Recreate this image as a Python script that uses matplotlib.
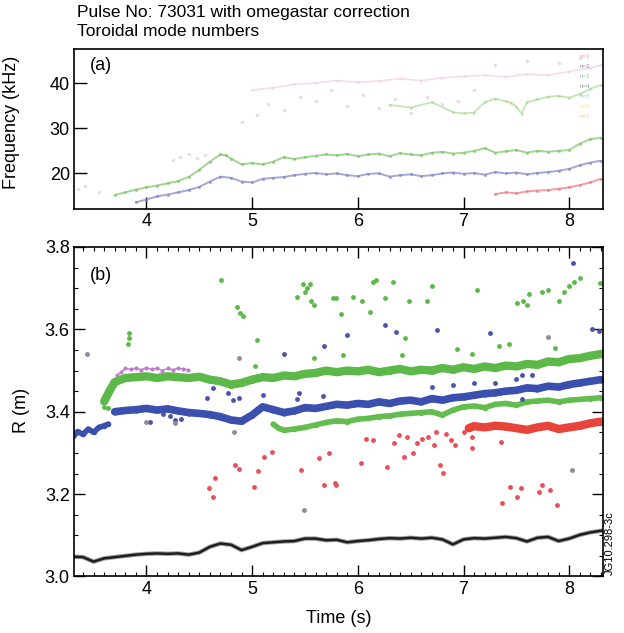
import matplotlib
matplotlib.use("Agg")
import matplotlib.pyplot as plt
from matplotlib.ticker import MultipleLocator, FormatStrFormatter

plt.rcParams["font.family"] = ["Liberation Sans", "DejaVu Sans"]

# ---------------- panel (a): frequency of the modes (kHz) ----------------
a_green_t = [3.7, 3.8, 3.9, 4.0, 4.1, 4.2, 4.3, 4.4, 4.5, 4.6, 4.7, 4.75, 4.8, 4.9,
             5.0, 5.1, 5.2, 5.3, 5.4, 5.5, 5.6, 5.7, 5.8, 5.9, 6.0, 6.1, 6.2, 6.3,
             6.4, 6.5, 6.6, 6.7, 6.8, 6.9, 7.0, 7.1, 7.2, 7.3, 7.4, 7.5, 7.6, 7.7,
             7.8, 7.9, 8.0, 8.1, 8.2, 8.3]
a_green_f = [15.2, 15.8, 16.4, 16.9, 17.3, 17.8, 18.3, 19.2, 20.8, 22.6, 24.2, 24.0, 23.3, 22.0,
             22.3, 22.0, 22.6, 23.6, 23.2, 23.6, 23.9, 24.2, 24.0, 24.3, 23.8, 24.2, 24.4, 23.8,
             24.5, 24.2, 24.0, 24.6, 24.8, 24.4, 24.6, 25.0, 25.6, 24.6, 24.9, 25.2, 24.6, 25.0,
             24.8, 25.0, 25.2, 26.6, 27.6, 27.9]

a_blue_t = [3.9, 4.0, 4.1, 4.2, 4.3, 4.4, 4.5, 4.6, 4.7, 4.8, 4.9, 5.0, 5.1, 5.2,
            5.3, 5.4, 5.5, 5.6, 5.7, 5.8, 5.9, 6.0, 6.1, 6.2, 6.3, 6.4, 6.5, 6.6,
            6.7, 6.8, 6.9, 7.0, 7.1, 7.2, 7.3, 7.4, 7.5, 7.6, 7.7, 7.8, 7.9, 8.0,
            8.1, 8.2, 8.3]
a_blue_f = [13.6, 14.2, 14.9, 15.3, 15.8, 16.3, 17.0, 18.2, 19.3, 19.0, 18.2, 18.0, 18.8, 19.0,
            19.2, 19.6, 19.9, 20.1, 19.8, 20.0, 19.6, 19.4, 19.9, 20.0, 19.3, 19.6, 19.8, 19.4,
            19.6, 20.0, 20.2, 19.9, 20.1, 19.7, 20.3, 20.0, 20.2, 19.8, 20.1, 20.3, 20.6, 21.0,
            21.8, 22.4, 22.8]

a_red_t = [7.3, 7.4, 7.5, 7.6, 7.7, 7.8, 7.9, 8.0, 8.1, 8.2, 8.3]
a_red_f = [15.4, 15.8, 15.6, 16.0, 16.2, 16.3, 16.6, 16.9, 17.4, 18.0, 18.8]

a_pink_t = [5.0, 5.2, 5.4, 5.6, 5.8, 6.0, 6.2, 6.4, 6.6, 6.8, 7.0, 7.2, 7.4, 7.6, 7.8, 8.0, 8.2, 8.3]
a_pink_f = [38.5, 39.0, 39.8, 40.0, 40.6, 40.2, 40.5, 41.0, 40.6, 41.2, 41.5, 41.8, 41.4, 42.0,
            41.8, 42.6, 43.4, 44.0]

a_green2_t = [6.3, 6.5, 6.7, 6.9, 7.0, 7.1, 7.2, 7.3, 7.4, 7.45, 7.5, 7.55, 7.6, 7.7, 7.8, 7.9,
              8.0, 8.1, 8.2, 8.3]
a_green2_f = [35.2, 34.6, 35.8, 33.6, 33.3, 33.5, 35.8, 36.6, 36.0, 35.6, 34.8, 33.2, 35.8, 36.4,
              37.0, 37.2, 36.8, 37.6, 38.8, 39.6]

a_faint_t = [3.35, 3.42, 3.55, 4.25, 4.32, 4.40, 4.48, 4.55, 4.9, 5.05, 5.15, 5.3, 5.45, 5.6,
             5.75, 5.9, 6.05, 6.2, 6.35, 6.5, 6.65, 6.8, 6.95, 7.1, 7.3, 7.6, 7.9, 8.1]
a_faint_f = [16.6, 17.2, 15.8, 23.0, 23.6, 24.2, 23.4, 24.0, 31.5, 33.0, 35.5, 34.0, 37.0, 36.0,
             38.5, 35.0, 37.5, 34.5, 36.5, 33.5, 37.0, 35.5, 36.0, 38.5, 44.0, 45.0, 44.5, 45.5]

mode_labels = ["n=1", "n=2", "n=3", "n=4", "n=5", "n=6", "n=7"]
mode_colors = ["#e05a6a", "#4b3d8f", "#4aa84a", "#2f5f6f", "#5aaee0", "#f0d040", "#f0a040"]

# ---------------- panel (b): radial position (m) ----------------
black_t = [3.3, 3.4, 3.5, 3.6, 3.7, 3.8, 3.9, 4.0, 4.1, 4.2, 4.3, 4.4, 4.5, 4.6, 4.7, 4.8, 4.9,
           5.0, 5.1, 5.2, 5.3, 5.4, 5.5, 5.6, 5.7, 5.8, 5.9, 6.0, 6.1, 6.2, 6.3, 6.4, 6.5,
           6.6, 6.7, 6.8, 6.9, 7.0, 7.1, 7.2, 7.3, 7.4, 7.5, 7.6, 7.7, 7.8, 7.9, 8.0, 8.1,
           8.2, 8.3]
black_r = [3.048, 3.047, 3.036, 3.044, 3.047, 3.050, 3.053, 3.055, 3.056, 3.055, 3.056, 3.053,
           3.058, 3.072, 3.080, 3.077, 3.064, 3.072, 3.081, 3.083, 3.085, 3.086, 3.092, 3.092,
           3.088, 3.089, 3.083, 3.086, 3.088, 3.091, 3.093, 3.092, 3.094, 3.092, 3.094, 3.090,
           3.078, 3.090, 3.093, 3.092, 3.094, 3.096, 3.093, 3.085, 3.094, 3.096, 3.086, 3.092,
           3.101, 3.107, 3.111]

blue_early_t = [3.31, 3.35, 3.40, 3.45, 3.50, 3.55, 3.60, 3.64]
blue_early_r = [3.340, 3.352, 3.345, 3.358, 3.350, 3.362, 3.366, 3.370]

blue_t = [3.7, 3.8, 3.9, 4.0, 4.1, 4.2, 4.3, 4.4, 4.5, 4.6, 4.7, 4.8, 4.9, 5.0, 5.1, 5.2,
          5.3, 5.4, 5.5, 5.6, 5.7, 5.8, 5.9, 6.0, 6.1, 6.2, 6.3, 6.4, 6.5, 6.6, 6.7, 6.8,
          6.9, 7.0, 7.1, 7.2, 7.3, 7.4, 7.5, 7.6, 7.7, 7.8, 7.9, 8.0, 8.1, 8.2, 8.3]
blue_r = [3.400, 3.403, 3.405, 3.408, 3.404, 3.407, 3.402, 3.398, 3.396, 3.393, 3.388, 3.380,
          3.377, 3.392, 3.412, 3.405, 3.398, 3.402, 3.410, 3.408, 3.413, 3.418, 3.416, 3.420,
          3.418, 3.424, 3.420, 3.426, 3.428, 3.424, 3.432, 3.428, 3.434, 3.436, 3.440, 3.444,
          3.446, 3.450, 3.452, 3.458, 3.456, 3.462, 3.460, 3.466, 3.470, 3.474, 3.478]

green_t = [3.60, 3.65, 3.70, 3.8, 3.9, 4.0, 4.1, 4.2, 4.3, 4.4, 4.5, 4.6, 4.7, 4.8, 4.9,
           5.0, 5.1, 5.2, 5.3, 5.4, 5.5, 5.6, 5.7, 5.8, 5.9, 6.0, 6.1, 6.2, 6.3, 6.4, 6.5,
           6.6, 6.7, 6.8, 6.9, 7.0, 7.1, 7.2, 7.3, 7.4, 7.5, 7.6, 7.7, 7.8, 7.9, 8.0, 8.1,
           8.2, 8.3]
green_r = [3.425, 3.450, 3.472, 3.482, 3.484, 3.486, 3.482, 3.486, 3.484, 3.482, 3.485, 3.478,
           3.474, 3.466, 3.470, 3.478, 3.484, 3.482, 3.488, 3.486, 3.492, 3.494, 3.500, 3.496,
           3.500, 3.498, 3.502, 3.496, 3.500, 3.504, 3.498, 3.502, 3.500, 3.506, 3.502, 3.508,
           3.504, 3.510, 3.506, 3.512, 3.510, 3.516, 3.514, 3.522, 3.520, 3.528, 3.530, 3.536,
           3.540]

green_low_t = [5.20, 5.25, 5.3, 5.4, 5.5, 5.6, 5.7, 5.8, 5.9, 6.0, 6.1, 6.2, 6.3, 6.4, 6.5,
               6.6, 6.7, 6.8, 6.9, 7.0, 7.1, 7.2, 7.3, 7.4, 7.5, 7.6, 7.7, 7.8, 7.9, 8.0,
               8.1, 8.2, 8.3]
green_low_r = [3.370, 3.360, 3.355, 3.358, 3.362, 3.368, 3.374, 3.378, 3.376, 3.382, 3.384,
               3.388, 3.390, 3.394, 3.396, 3.398, 3.400, 3.392, 3.404, 3.412, 3.414, 3.410,
               3.418, 3.420, 3.416, 3.424, 3.426, 3.428, 3.424, 3.428, 3.430, 3.432, 3.434]

red_t = [7.05, 7.1, 7.2, 7.3, 7.4, 7.5, 7.6, 7.7, 7.8, 7.9, 8.0, 8.1, 8.2, 8.3]
red_r = [3.360, 3.365, 3.362, 3.366, 3.364, 3.360, 3.356, 3.362, 3.366, 3.358, 3.362, 3.366,
         3.372, 3.376]

pink_t = [3.72, 3.76, 3.80, 3.85, 3.90, 3.95, 4.00, 4.05, 4.10, 4.15, 4.20, 4.25, 4.30, 4.35, 4.39]
pink_r = [3.488, 3.497, 3.505, 3.503, 3.506, 3.502, 3.507, 3.503, 3.506, 3.500, 3.505, 3.502,
          3.506, 3.504, 3.502]

green_pts_t = [3.60, 3.64, 3.83, 3.84, 3.84, 4.71, 4.86, 4.89, 4.91, 5.05, 5.42, 5.48, 5.50,
               5.52, 5.55, 5.56, 5.59, 5.77, 5.03, 5.59, 6.14, 6.17, 6.33, 6.70, 7.13, 5.79,
               5.95, 6.04, 6.26, 6.48, 6.65, 5.84, 6.12, 7.51, 7.56, 7.60, 7.62, 7.74, 7.80,
               7.90, 7.95, 8.00, 8.05, 8.10, 8.29, 6.45, 6.94, 7.08, 7.34, 7.43, 7.87, 5.86, 6.42]
green_pts_r = [3.412, 3.410, 3.565, 3.578, 3.590, 3.719, 3.655, 3.640, 3.632, 3.574, 3.679, 3.710,
               3.690, 3.700, 3.710, 3.670, 3.660, 3.675, 3.510, 3.530, 3.715, 3.720, 3.715, 3.706,
               3.695, 3.675, 3.678, 3.670, 3.675, 3.670, 3.668, 3.638, 3.642, 3.665, 3.668, 3.660,
               3.687, 3.690, 3.695, 3.670, 3.690, 3.705, 3.715, 3.725, 3.712, 3.578, 3.553, 3.540,
               3.560, 3.565, 3.555, 3.537, 3.537]

blue_pts_t = [4.03, 4.16, 4.22, 4.27, 4.33, 4.57, 4.63, 4.77, 4.82, 4.88, 5.10, 5.30, 5.42,
              5.44, 5.67, 5.68, 5.90, 6.26, 6.36, 6.75, 7.25, 8.04, 6.70, 6.90, 7.10, 7.30,
              7.50, 7.55, 7.55, 7.65, 8.22, 8.28]
blue_pts_r = [3.376, 3.395, 3.390, 3.380, 3.383, 3.433, 3.457, 3.445, 3.429, 3.433, 3.440, 3.540,
              3.430, 3.445, 3.437, 3.560, 3.586, 3.610, 3.594, 3.598, 3.590, 3.760, 3.460, 3.465,
              3.470, 3.470, 3.480, 3.430, 3.490, 3.488, 3.600, 3.595]

red_pts_t = [4.59, 4.65, 4.63, 4.84, 4.88, 5.02, 5.06, 5.11, 5.19, 5.46, 5.63, 5.68, 5.73, 5.79,
             5.78, 6.03, 6.08, 6.14, 6.28, 6.34, 6.39, 6.44, 6.47, 6.52, 6.56, 6.61, 6.66,
             6.72, 6.74, 6.78, 6.81, 6.83, 6.88, 6.92, 7.00, 7.08, 7.08, 7.35, 7.36, 7.44,
             7.51, 7.54, 7.71, 7.74, 7.82, 7.88]
red_pts_r = [3.214, 3.239, 3.192, 3.270, 3.260, 3.218, 3.257, 3.291, 3.303, 3.259, 3.287, 3.222,
             3.299, 3.222, 3.226, 3.275, 3.335, 3.332, 3.267, 3.323, 3.343, 3.291, 3.339, 3.299,
             3.323, 3.335, 3.339, 3.319, 3.351, 3.271, 3.251, 3.347, 3.331, 3.319, 3.351, 3.311,
             3.339, 3.327, 3.178, 3.218, 3.194, 3.214, 3.206, 3.222, 3.210, 3.174]

grey_pts_t = [3.44, 4.00, 4.27, 4.83, 4.88, 5.49, 7.80, 8.03]
grey_pts_r = [3.540, 3.376, 3.372, 3.352, 3.530, 3.162, 3.582, 3.259]


def band(ax, t, v, color, lw, ms, alpha=1.0):
    ax.plot(t, v, "-", color=color, lw=lw, alpha=alpha, solid_capstyle="round")
    ax.plot(t, v, "o", color=color, ms=ms, alpha=alpha, mec="none")


def main() -> None:
    fig = plt.figure(figsize=(6.24, 6.33), dpi=100)
    ax_a = fig.add_axes([0.1186, 0.6698, 0.8478, 0.2528])
    ax_b = fig.add_axes([0.1186, 0.0893, 0.8478, 0.5205])

    # panel (a)
    ax_a.plot(a_faint_t, a_faint_f, "o", color="#e6dce9", ms=2.5, mec="none")
    band(ax_a, a_pink_t, a_pink_f, "#eec4e4", 1.2, 1.8, 0.6)
    band(ax_a, a_green2_t, a_green2_f, "#9bd486", 1.3, 2.0, 0.6)
    band(ax_a, a_green_t, a_green_f, "#7cc266", 1.4, 2.2, 0.7)
    band(ax_a, a_blue_t, a_blue_f, "#7e84c6", 1.4, 2.2, 0.7)
    band(ax_a, a_red_t, a_red_f, "#ee7676", 1.4, 2.2, 0.7)

    for i, (lab, col) in enumerate(zip(mode_labels, mode_colors)):
        ax_a.text(0.965, 0.955 - i * 0.063, lab, color=col, fontsize=4.5,
                  alpha=0.6, ha="center", va="center", transform=ax_a.transAxes)

    ax_a.set_xlim(3.315, 8.32)
    ax_a.set_ylim(12.1, 47.6)
    ax_a.set_yticks([20, 30, 40])
    ax_a.set_xticks([4, 5, 6, 7, 8])
    ax_a.tick_params(direction="in", length=9, width=1, labelsize=13, pad=3)
    ax_a.set_ylabel("Frequency (kHz)", fontsize=13)
    ax_a.yaxis.set_label_coords(-0.102, 0.54)
    ax_a.text(0.03, 0.87, "(a)", fontsize=13, transform=ax_a.transAxes)

    # panel (b)
    band(ax_b, pink_t, pink_r, "#c07ccc", 1.0, 3.0)
    band(ax_b, green_t, green_r, "#5cb848", 6.0, 5.0)
    band(ax_b, blue_early_t, blue_early_r, "#3a4fae", 4.0, 4.0)
    band(ax_b, blue_t, blue_r, "#3a4fae", 5.5, 4.5)
    band(ax_b, green_low_t, green_low_r, "#62bc4e", 4.0, 4.0)
    band(ax_b, red_t, red_r, "#e8443a", 6.0, 5.0)
    ax_b.plot(green_pts_t, green_pts_r, "o", color="#5cb848", ms=3.5, mec="none")
    ax_b.plot(blue_pts_t, blue_pts_r, "o", color="#4a55a8", ms=3.5, mec="none")
    ax_b.plot(red_pts_t, red_pts_r, "o", color="#e8505a", ms=3.5, mec="none")
    ax_b.plot(grey_pts_t, grey_pts_r, "o", color="#8a8a98", ms=3.5, mec="none")
    ax_b.plot(black_t, black_r, "-", color="#a0a0a0", lw=3.2)
    ax_b.plot(black_t, black_r, "-", color="#1e1e1e", lw=1.8)

    ax_b.set_xlim(3.315, 8.32)
    ax_b.set_ylim(3.0, 3.8)
    ax_b.set_xticks([4, 5, 6, 7, 8])
    ax_b.set_yticks([3.0, 3.2, 3.4, 3.6, 3.8])
    ax_b.yaxis.set_major_formatter(FormatStrFormatter("%.1f"))
    ax_b.xaxis.set_minor_locator(MultipleLocator(0.1))
    ax_b.yaxis.set_minor_locator(MultipleLocator(0.05))
    ax_b.tick_params(which="both", direction="in", top=True, right=True)
    ax_b.tick_params(which="major", length=8, width=1, labelsize=13, pad=3)
    ax_b.tick_params(which="minor", length=3, width=0.8)
    ax_b.set_ylabel("R (m)", fontsize=13)
    ax_b.yaxis.set_label_coords(-0.083, 0.505)
    ax_b.set_xlabel("Time (s)", fontsize=13)
    ax_b.xaxis.set_label_coords(0.5, -0.102)
    ax_b.text(0.03, 0.9, "(b)", fontsize=13, transform=ax_b.transAxes)

    for ax in (ax_a, ax_b):
        for sp in ax.spines.values():
            sp.set_linewidth(1.2)

    fig.text(0.123, 0.981, "Pulse No: 73031 with omegastar correction",
             fontsize=12.5, va="center")
    fig.text(0.123, 0.951, "Toroidal mode numbers", fontsize=12.5, va="center")
    fig.text(0.978, 0.142, "JG10.298-3c", fontsize=8, rotation=90,
             ha="center", va="center")

    fig.savefig("out.png", dpi=100)


if __name__ == "__main__":
    main()
